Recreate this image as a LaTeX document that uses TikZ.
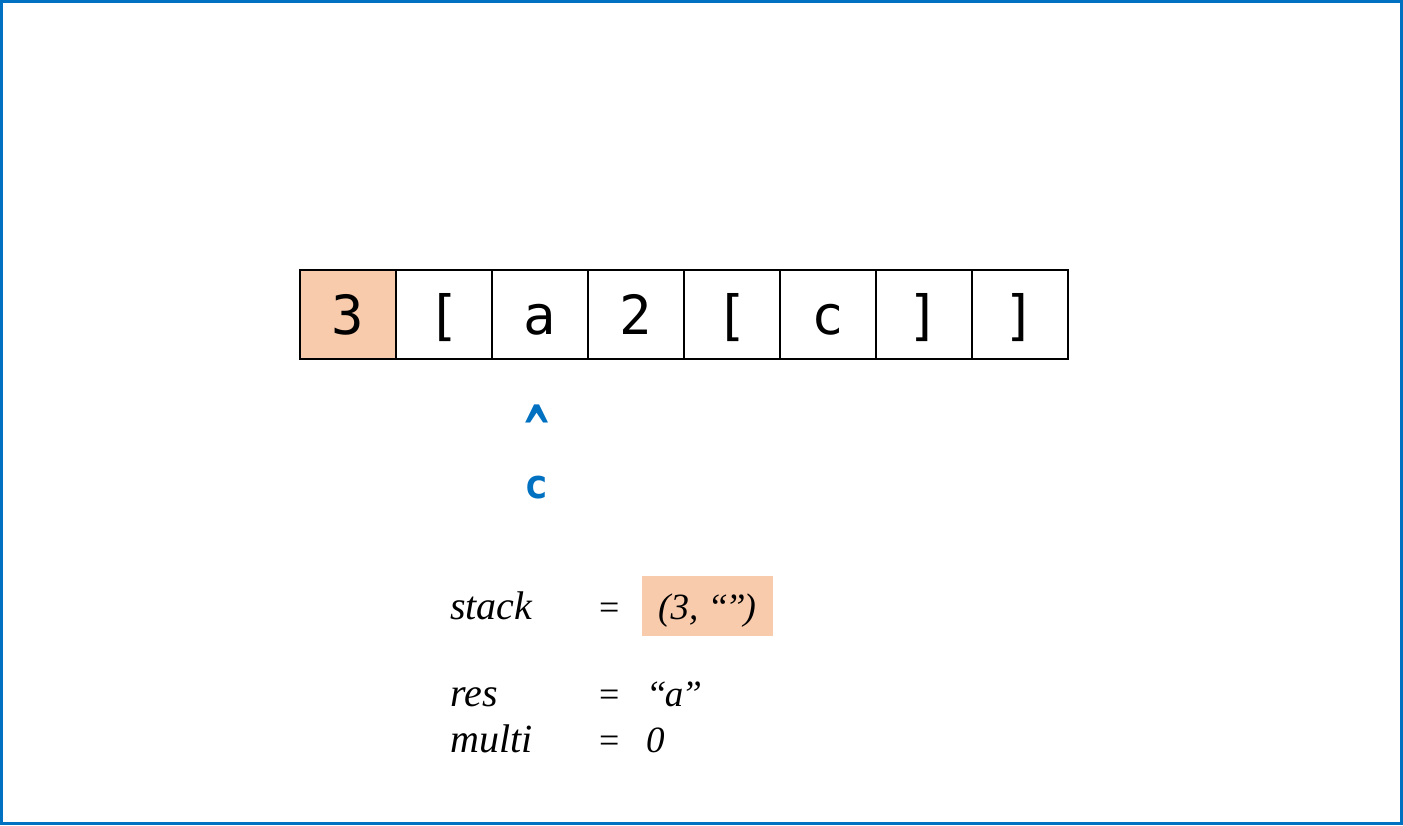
\documentclass[tikz,border=0pt]{standalone}
\usepackage{fontspec}
\usepackage{graphicx}
\setmainfont{Liberation Serif}
\newfontfamily\cellfont{DejaVu Sans Mono}
\newfontfamily\ptrfont{DejaVu Sans Mono}
\definecolor{peach}{HTML}{F8CBAD}
\definecolor{frameblue}{HTML}{0070C0}
\tikzset{
  cellbox/.style={draw=black, line width=2pt, minimum width=96pt, minimum height=89pt, inner sep=0pt, anchor=north west,
    text height=41pt, text depth=0pt, font=\cellfont\fontsize{54}{54}\selectfont},
  ptr/.style={text=frameblue, font=\ptrfont\bfseries\fontsize{40}{40}\selectfont, inner sep=0pt},
  lbl/.style={font=\itshape\fontsize{40}{40}\selectfont, inner sep=0pt, anchor=base west},
  val/.style={lbl, font=\itshape\fontsize{37}{37}\selectfont},
}
\begin{document}
\begin{tikzpicture}[x=1pt,y=-1pt]
\useasboundingbox (0,0) rectangle (1403,825);
\draw[frameblue, line width=3pt] (1.5,1.5) rectangle (1401.5,823.5);
\node[cellbox, fill=peach] (c0) at (298.5,268.5) {3};
\node[cellbox] (c1) at (394.5,268.5) {[};
\node[cellbox] (c2) at (490.5,268.5) {a};
\node[cellbox] (c3) at (586.5,268.5) {2};
\node[cellbox] (c4) at (682.5,268.5) {[};
\node[cellbox] (c5) at (778.5,268.5) {c};
\node[cellbox] (c6) at (874.5,268.5) {]};
\node[cellbox] (c7) at (970.5,268.5) {]};
\node[ptr, font=\ptrfont\bfseries\fontsize{58}{58}\selectfont, anchor=base, text depth=0pt] (caret) at (537,453) {\scalebox{0.72}[1.15]{\^{}}};
\node[ptr, anchor=base] (cptr) at (537,498) {c};
\node[fill=peach, minimum width=131pt, minimum height=60pt, inner sep=0pt, anchor=north west] (stackbox) at (642,576) {};
\node[lbl] (stk) at (450,619) {stack};
\node[lbl, font=\fontsize{36}{36}\selectfont] (eq1) at (599,619) {=};
\node[val] (stkv) at (658,619) {(3, “\kern-3pt”\kern-2pt)};
\node[lbl] (res) at (450,706) {res};
\node[lbl, font=\fontsize{36}{36}\selectfont] (eq2) at (599,706) {=};
\node[val] (resv) at (646,706) {“\kern-2pt a\kern-2pt”};
\node[lbl] (mul) at (450,752) {multi};
\node[lbl, font=\fontsize{36}{36}\selectfont] (eq3) at (599,752) {=};
\node[val] (mulv) at (646,752) {0};
\end{tikzpicture}
\end{document}
